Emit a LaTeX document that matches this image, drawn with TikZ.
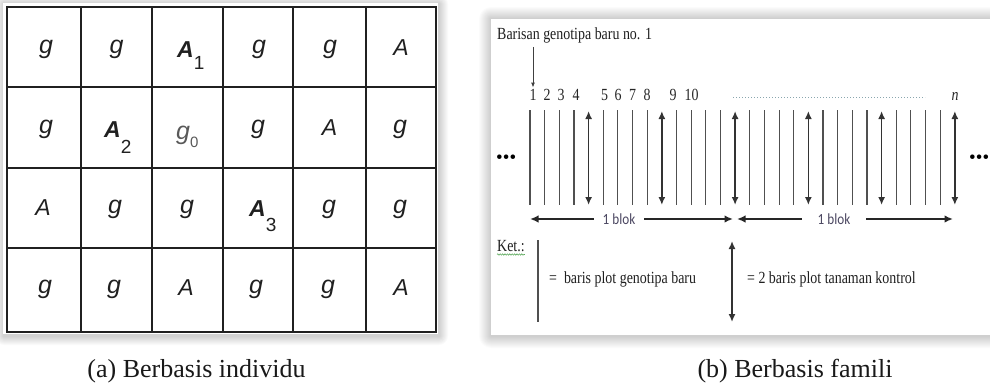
\documentclass[tikz,border=0pt]{standalone}
\usepackage{fontspec}
\setmainfont{Liberation Serif}
\newfontfamily\narrowserif{Liberation Serif}[FakeStretch=0.82]
\newfontfamily\cellfont{Liberation Sans}
\newfontfamily\blokfont{Carlito}[FakeStretch=0.85]
\usetikzlibrary{arrows.meta,decorations.pathmorphing}

\definecolor{inkgray}{HTML}{202020}
\definecolor{plotgray}{HTML}{505050}
\definecolor{blokink}{HTML}{4C4862}
\definecolor{dotink}{HTML}{8AA6AE}
\definecolor{spellgreen}{HTML}{5DAA5D}

% letter with a lowered index, as used in the plot grid
\newcommand\idxletter[3]{{\bfseries #1}\raisebox{-#3pt}{\upshape\fontsize{19}{19}\selectfont #2}}

\tikzset{
  gridline/.style={draw=inkgray, line width=1.4pt},
  gridframe/.style={draw=inkgray, line width=1.9pt},
  gcell/.style={font=\cellfont\itshape\fontsize{25}{25}\selectfont, text=inkgray, inner sep=0pt},
  acell/.style={font=\cellfont\itshape\fontsize{23}{23}\selectfont, text=inkgray, inner sep=0pt},
  lbl/.style={font=\narrowserif\fontsize{17}{17}\selectfont, text=black!88, inner sep=0pt},
  numlbl/.style={font=\narrowserif\fontsize{17}{17}\selectfont, text=black!85, inner sep=1pt, anchor=base},
  blok/.style={font=\blokfont\fontsize{15.5}{15.5}\selectfont, text=blokink, inner ysep=0pt},
  caption/.style={font=\fontsize{26}{26}\selectfont, text=black!90, inner sep=0pt, anchor=base},
  plotline/.style={draw=plotgray, line width=1.1pt},
  ctrlarrow/.style={draw=black!80, line width=1.6pt, {Latex[length=8pt,width=7pt]}-{Latex[length=8pt,width=7pt]}},
  blokarrow/.style={draw=black!85, line width=1.8pt, -{Latex[length=8.5pt,width=7.5pt]}},
  pointer/.style={draw=black!75, line width=0.9pt, -{Latex[length=5pt,width=4pt]}},
  dotline/.style={draw=dotink, line width=1pt, dash pattern=on 1pt off 2pt},
  ellip/.style={font=\fontsize{19}{19}\selectfont, inner sep=0pt, anchor=west},
}

\begin{document}
\begin{tikzpicture}[x=1pt,y=-1pt]
\useasboundingbox (0,0) rectangle (990,383);
\fill[white] (0,0) rectangle (990,383);

% ---------- (a) individual-based layout ----------
\foreach \k in {1,...,9}{
  \fill[black, opacity=0.02, rounded corners=\k pt] ({4-\k},{4-\k}) rectangle ({439+\k},{336+\k});
}
\fill[white] (3,3) rectangle (438,334);

\foreach \xx in {81,152,223,293,366} \draw[gridline] (\xx,7) -- (\xx,332);
\foreach \yy in {87,168,248} \draw[gridline] (7,\yy) -- (436,\yy);
\draw[gridframe] (7,7) rectangle (436,332);

% row 1
\node[gcell] (c11) at (46,49) {g};
\node[gcell] (c12) at (116.5,49) {g};
\node[acell, anchor=base west] (c13) at (177,57) {\idxletter{A}{1}{12}};
\node[gcell] (c14) at (259,49) {g};
\node[gcell] (c15) at (330,49) {g};
\node[acell] (c16) at (401,48) {A};
% row 2
\node[gcell] (c21) at (46,129) {g};
\node[acell, anchor=base west] (c22) at (104,137) {\idxletter{A}{2}{16}};
\node[gcell, text=black!65, anchor=base west] (c23) at (176,139) {g\raisebox{-8pt}{\upshape\fontsize{15}{15}\selectfont 0}};
\node[gcell] (c24) at (258,129) {g};
\node[acell] (c25) at (329.5,128) {A};
\node[gcell] (c26) at (400,129) {g};
% row 3
\node[acell] (c31) at (43,208) {A};
\node[gcell] (c32) at (115,209) {g};
\node[gcell] (c33) at (187,209) {g};
\node[acell, anchor=base west] (c34) at (249,216) {\idxletter{A}{3}{15}};
\node[gcell] (c35) at (329,209) {g};
\node[gcell] (c36) at (400,209) {g};
% row 4
\node[gcell] (c41) at (45,289) {g};
\node[gcell] (c42) at (114,289) {g};
\node[acell] (c43) at (186,288) {A};
\node[gcell] (c44) at (256,289) {g};
\node[gcell] (c45) at (328,289) {g};
\node[acell] (c46) at (401,288) {A};

\node[caption] (capA) at (196.5,377) {(a) Berbasis individu};

% ---------- (b) family-based layout ----------
\foreach \k in {1,...,12}{
  \fill[black, opacity=0.017, rounded corners=\k pt] ({491-\k},{19-\k}) rectangle ({1010+\k},{336+\k});
}
\fill[white] (491,19) rectangle (1010,335);

\node[lbl, anchor=base west] (hdr) at (497,39) {Barisan genotipa baru no. 1};

% plot numbers
\node[numlbl] (n1) at (533,100) {1};
\node[numlbl] (n2) at (547,100) {2};
\node[numlbl] (n3) at (561,100) {3};
\node[numlbl] (n4) at (576,100) {4};
\node[numlbl] (n5) at (604.5,100) {5};
\node[numlbl] (n6) at (618,100) {6};
\node[numlbl] (n7) at (632.5,100) {7};
\node[numlbl] (n8) at (647,100) {8};
\node[numlbl] (n9) at (673,100) {9};
\node[numlbl] (n10) at (691.5,100) {10};
\node[numlbl, font=\narrowserif\itshape\fontsize{17}{17}\selectfont] (nn) at (955,100) {n};

\coordinate (hdrfoot) at ([yshift=-4pt]hdr.south -| n1);
\draw[pointer] (hdrfoot) -- (n1.north);

\coordinate (dotL) at (733,97);
\coordinate (dotR) at (925,97);
\draw[dotline] (dotL) -- (dotR);

% rows: plain plot lines and control-row arrows
\foreach \i in {0,...,29}{
  \coordinate (top\i) at ({530+14.65*\i},110);
  \coordinate (bot\i) at ({530+14.65*\i},205);
}
\foreach \i in {0,1,2,3,5,6,7,8,10,11,12,13,15,16,17,18,20,21,22,23,25,26,27,28}{
  \draw[plotline] (top\i) -- (bot\i);
}
\foreach \i in {4,9,14,19,24,29}{
  \draw[ctrlarrow] ([yshift=-1pt]top\i) -- (bot\i);
}

% block extents
\node[blok, inner xsep=9pt] (blokA) at (619,219) {1 blok};
\coordinate (blokAl) at (530,219);
\coordinate (blokAr) at (733,219);
\draw[blokarrow] (blokA.west) -- (blokAl);
\draw[blokarrow] (blokA.east) -- (blokAr);

\node[blok, inner xsep=16pt] (blokB) at (834,219) {1 blok};
\coordinate (blokBl) at (737,219);
\coordinate (blokBr) at (953,219);
\draw[blokarrow] (blokB.west) -- (blokBl);
\draw[blokarrow] (blokB.east) -- (blokBr);

% continuation marks
\node[ellip] (moreL) at (496,159) {•••};
\node[ellip] (moreR) at (969,159) {•••};

% legend
\node[lbl, anchor=base west] (ket) at (497,251) {Ket.:};
\draw[spellgreen, line width=0.6pt, decorate, decoration={snake, amplitude=0.7pt, segment length=2.4pt}]
  ([yshift=-3.5pt]ket.base west) -- ([yshift=-3.5pt]ket.base east);

\coordinate (lgAtop) at (538,240);
\coordinate (lgAbot) at (538,322);
\draw[plotline] (lgAtop) -- (lgAbot);
\node[lbl, anchor=base west] (lgAtxt) at (549,283) {=\ \ baris plot genotipa baru};

\coordinate (lgBtop) at (732,241);
\coordinate (lgBbot) at (732,322);
\draw[ctrlarrow] (lgBtop) -- (lgBbot);
\node[lbl, anchor=base west] (lgBtxt) at (747,283) {= 2 baris plot tanaman kontrol};

\node[caption] (capB) at (795,377) {(b) Berbasis famili};
\end{tikzpicture}
\end{document}
